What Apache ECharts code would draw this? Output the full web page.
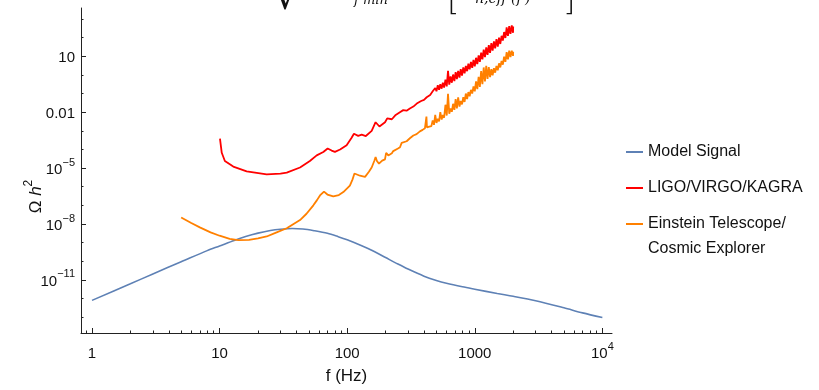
<!DOCTYPE html>
<html><head><meta charset="utf-8">
<script src="https://cdn.jsdelivr.net/npm/echarts@6/dist/echarts.min.js"></script>
<style>html,body{margin:0;padding:0;background:#fff}#c{width:819px;height:390px}</style>
</head><body><div id="c"></div>
<script>
// ---- data (frequencies in Hz, values as log10 of Omega h^2) ----
const modelFreq = [1, 2, 3, 5, 8, 10, 13, 16, 20, 25, 30, 37, 45, 55, 70, 85, 100, 130, 160, 200, 250, 300, 400, 500, 600, 800, 1000, 1500, 2000, 3000, 5000, 7000, 10000];
const modelLogOmega = [-12.10, -11.21, -10.68, -10.03, -9.43, -9.18, -8.88, -8.67, -8.49, -8.35, -8.28, -8.24, -8.27, -8.36, -8.50, -8.68, -8.85, -9.17, -9.45, -9.80, -10.15, -10.42, -10.80, -11.03, -11.18, -11.37, -11.50, -11.73, -11.88, -12.12, -12.50, -12.77, -13.02];

const ligoSmoothFreq = [10.07, 10.4, 11.0, 12.8, 16.3, 23.4, 30, 33.6, 42.7, 51, 57.7, 65, 70.3, 75.5, 80.2, 88, 99, 108, 113, 122, 130, 140, 155.6, 167, 179, 198, 206, 224, 240, 259, 275, 292, 310, 330, 351, 380, 400, 420, 447];
const ligoSmoothLog = [-3.42, -4.18, -4.62, -4.92, -5.18, -5.34, -5.30, -5.24, -4.97, -4.62, -4.32, -4.14, -3.95, -4.06, -4.13, -4.00, -3.77, -3.39, -3.16, -3.27, -3.21, -3.28, -3.00, -2.54, -2.77, -2.54, -2.33, -2.38, -2.15, -2.00, -1.89, -1.92, -1.80, -1.70, -1.54, -1.40, -1.34, -1.20, -1.08];

const etSmoothFreq = [5, 6, 7, 8.5, 10, 12, 14, 17, 20, 23.4, 28, 33.6, 38, 42.7, 48, 54.3, 58, 61.2, 65.8, 70, 77.8, 86, 93.3, 105, 110, 114, 118, 126, 138, 148, 155.6, 163, 167, 171, 177.5, 188, 197.8, 202, 210, 216, 224, 229.6, 250, 259.4, 267.3, 275, 292.4, 310, 330, 350, 371.5, 390, 407, 418, 422, 440];
const etSmoothLog = [-7.65, -7.95, -8.18, -8.45, -8.63, -8.80, -8.87, -8.85, -8.77, -8.67, -8.45, -8.23, -8.00, -7.79, -7.45, -7.00, -6.72, -6.47, -6.26, -6.42, -6.52, -6.45, -6.29, -5.94, -5.62, -5.29, -5.38, -5.41, -5.47, -5.20, -4.97, -4.62, -4.41, -4.62, -4.76, -4.60, -4.53, -4.18, -4.32, -4.35, -4.20, -4.09, -3.95, -3.88, -3.65, -3.64, -3.56, -3.40, -3.25, -3.18, -3.03, -2.95, -2.86, -2.24, -2.82, -2.78];

// noisy high-frequency band: samples alternate between lower and upper edge
const bandFreq = [457, 468, 479, 490, 501, 513, 525, 537, 550, 562, 575, 589, 603, 617, 631, 646, 661, 676, 692, 708, 724, 741, 759, 776, 794, 813, 832, 851, 871, 891, 912, 933, 955, 977, 1000, 1023, 1047, 1072, 1096, 1122, 1148, 1175, 1202, 1230, 1259, 1288, 1318, 1349, 1380, 1413, 1445, 1479, 1514, 1549, 1585, 1622, 1660, 1698, 1738, 1778, 1820, 1862, 1905, 1950, 1995, 2000];
const ligoBandLog = [-1.05, -0.88, -0.98, -0.70, -0.88, -0.55, -0.80, -0.50, -0.74, -0.42, -0.68, -0.25, -0.62, 0.22, -0.52, -0.08, -0.42, 0.02, -0.33, 0.15, -0.22, 0.22, -0.14, 0.31, -0.04, 0.40, 0.08, 0.48, 0.20, 0.60, 0.30, 0.70, 0.38, 0.80, 0.46, 0.92, 0.58, 1.05, 0.70, 1.20, 0.83, 1.35, 0.96, 1.48, 1.08, 1.60, 1.18, 1.70, 1.30, 1.80, 1.42, 1.92, 1.52, 2.00, 1.66, 2.10, 1.84, 2.30, 1.98, 2.55, 2.10, 2.62, 2.20, 2.66, 2.26, 2.60];
const etBandLog = [-2.75, -2.45, -2.68, -2.15, -2.58, -2.35, -2.50, -2.00, -2.40, -2.15, -2.30, -1.60, -2.18, -1.01, -2.08, -1.80, -1.98, -1.55, -1.88, -1.30, -1.80, -1.20, -1.70, -1.40, -1.58, -1.20, -1.45, -1.00, -1.30, -0.92, -1.15, -0.80, -1.00, -0.62, -0.88, -0.35, -0.76, -0.10, -0.64, 0.20, -0.50, 0.40, -0.35, 0.49, -0.22, 0.42, -0.12, 0.31, -0.02, 0.36, 0.12, 0.48, 0.25, 0.62, 0.40, 0.75, 0.55, 0.98, 0.70, 1.22, 0.84, 1.30, 0.95, 1.30, 1.02, 1.25];

const seriesNames = ['Model Signal', 'LIGO/VIRGO/KAGRA', 'Einstein Telescope/Cosmic Explorer'];
const xTickValues = [1, 10, 100, 1000, 10000];
const xTickLabels = ['1', '10', '100', '1000', '10^4'];
const xMinorTicks = [0.9, 2, 3, 4, 5, 6, 7, 8, 9, 20, 30, 40, 50, 60, 70, 80, 90, 200, 300, 400, 500, 600, 700, 800, 900, 2000, 3000, 4000, 5000, 6000, 7000, 8000, 9000];
const yTickValues = [10, 0.01, 1e-5, 1e-8, 1e-11];
const yTickLabels = ['10', '0.01', '10^−5', '10^−8', '10^−11'];
const yMinorTicks = [1e3, 1e2, 1e1, 1, 1e-1, 1e-2, 1e-3, 1e-4, 1e-5, 1e-6, 1e-7, 1e-8, 1e-9, 1e-10, 1e-11, 1e-12, 1e-13];

// ---- build ----
function pairs(fs, logs) { return fs.map((f, i) => [f, Math.pow(10, logs[i])]); }
const FONT = 'Liberation Sans';
const richStyles = {
  b: { fontFamily: FONT, fontSize: 15, color: '#111', lineHeight: 26 },
  s: { fontFamily: FONT, fontSize: 11, color: '#111', lineHeight: 14, verticalAlign: 'top' }
};
function richLabel(txt) {
  const p = txt.split('^');
  return p.length > 1 ? '{b|' + p[0] + '}{s|' + p[1] + '}' : '{b|' + txt + '}';
}
function labelFor(values, labels) {
  return function (v) {
    for (let i = 0; i < values.length; i++) {
      if (Math.abs(Math.log10(v) - Math.log10(values[i])) < 1e-6) return richLabel(labels[i]);
    }
    return '';
  };
}
const X_MIN = 0.82, X_MAX = 11900, Y_MIN = Math.pow(10, -13.85), Y_MAX = Math.pow(10, 3.59);
const AX = '#222';
const FORMULA = 'DejaVu Serif';

const chart = echarts.init(document.getElementById('c'), null, { renderer: 'canvas' });
chart.setOption({
  animation: false,
  backgroundColor: '#fff',
  grid: { left: 81, right: 207, top: 8, bottom: 52, containLabel: false },
  xAxis: [{
    type: 'log', min: X_MIN, max: X_MAX, position: 'bottom',
    name: 'f (Hz)', nameLocation: 'middle', nameGap: 35, nameMoveOverlap: false,
    nameTextStyle: { fontFamily: FONT, fontSize: 17, color: '#111' },
    axisLine: { show: true, lineStyle: { color: AX, width: 1 } },
    axisTick: { show: true, inside: true, length: 5, customValues: xTickValues, lineStyle: { color: AX } },
    axisLabel: { show: true, margin: 8, customValues: xTickValues, formatter: labelFor(xTickValues, xTickLabels), rich: richStyles },
    splitLine: { show: false }, minorTick: { show: false }
  }, {
    type: 'log', min: X_MIN, max: X_MAX, position: 'bottom', offset: 0,
    axisLine: { show: false },
    axisTick: { show: true, inside: true, length: 2.5, customValues: xMinorTicks, lineStyle: { color: AX } },
    axisLabel: { show: false }, splitLine: { show: false }
  }],
  yAxis: [{
    type: 'log', min: Y_MIN, max: Y_MAX, position: 'left',
    name: '{a|Ω }{i|h}{s|2}', nameLocation: 'middle', nameGap: 32, nameRotate: 90, nameMoveOverlap: false,
    nameTextStyle: {
      padding: [0, 52, 0, 0],
      rich: {
        a: { fontFamily: FONT, fontSize: 17, color: '#111', lineHeight: 26 },
        i: { fontFamily: FONT, fontSize: 17, fontStyle: 'italic', color: '#111', lineHeight: 26 },
        s: { fontFamily: FONT, fontSize: 12, color: '#111', lineHeight: 16, verticalAlign: 'top' }
      }
    },
    axisLine: { show: true, lineStyle: { color: AX, width: 1 } },
    axisTick: { show: true, inside: true, length: 5, customValues: yTickValues, lineStyle: { color: AX } },
    axisLabel: { show: true, margin: 6, padding: [4, 0, 0, 0], customValues: yTickValues, formatter: labelFor(yTickValues, yTickLabels), rich: richStyles },
    splitLine: { show: false }
  }, {
    type: 'log', min: Y_MIN, max: Y_MAX, position: 'left', offset: 0,
    axisLine: { show: false },
    axisTick: { show: true, inside: true, length: 2.5, customValues: yMinorTicks, lineStyle: { color: AX } },
    axisLabel: { show: false }, splitLine: { show: false }
  }],
  legend: {
    orient: 'vertical', left: 626, top: 142, padding: 0, itemWidth: 17, itemHeight: 2, itemGap: 16,
    icon: 'rect', selectedMode: false,
    data: seriesNames,
    textStyle: { fontFamily: FONT, fontSize: 16, color: '#111', lineHeight: 20 },
    formatter: function (n) { return n === seriesNames[2] ? 'Einstein Telescope/' : n; }
  },
  graphic: [
    { type: 'text', left: 648, top: 241, style: { text: 'Cosmic Explorer', fontFamily: FONT, fontSize: 16, fill: '#111' } },
    // clipped formula at the top edge (only its lower part is inside the picture)
    { type: 'text', x: 274, y: 19, style: { text: '√', fontFamily: 'DejaVu Sans', fontSize: 40, fill: '#111', verticalAlign: 'bottom', align: 'left' } },
    { type: 'text', x: 354, y: 7, style: { text: 'f min', fontFamily: FORMULA, fontSize: 13, fontStyle: 'italic', fill: '#111', verticalAlign: 'bottom' } },
    { type: 'text', x: 447, y: 18, style: { text: '[', fontFamily: 'DejaVu Sans', fontSize: 32, fontWeight: 'lighter', fill: '#111', verticalAlign: 'bottom' } },
    { type: 'text', x: 475, y: 6, style: { text: 'n,eff (f′)', fontFamily: FORMULA, fontSize: 14, fontStyle: 'italic', fill: '#111', verticalAlign: 'bottom' } },
    { type: 'text', x: 563, y: 18, style: { text: ']', fontFamily: 'DejaVu Sans', fontSize: 32, fontWeight: 'lighter', fill: '#111', verticalAlign: 'bottom' } }
  ],
  series: [{
    name: seriesNames[0], type: 'line', showSymbol: false, symbol: 'none',
    lineStyle: { color: '#5E81B5', width: 1.6 }, itemStyle: { color: '#5E81B5' },
    data: pairs(modelFreq, modelLogOmega), smooth: 0.3
  }, {
    name: seriesNames[1], type: 'line', showSymbol: false, symbol: 'none',
    lineStyle: { color: '#FF0000', width: 1.8 }, itemStyle: { color: '#FF0000' },
    data: pairs(ligoSmoothFreq.concat(bandFreq), ligoSmoothLog.concat(ligoBandLog))
  }, {
    name: seriesNames[2], type: 'line', showSymbol: false, symbol: 'none',
    lineStyle: { color: '#FF8000', width: 1.8 }, itemStyle: { color: '#FF8000' },
    data: pairs(etSmoothFreq.concat(bandFreq), etSmoothLog.concat(etBandLog))
  }]
});
</script>
</body></html>
